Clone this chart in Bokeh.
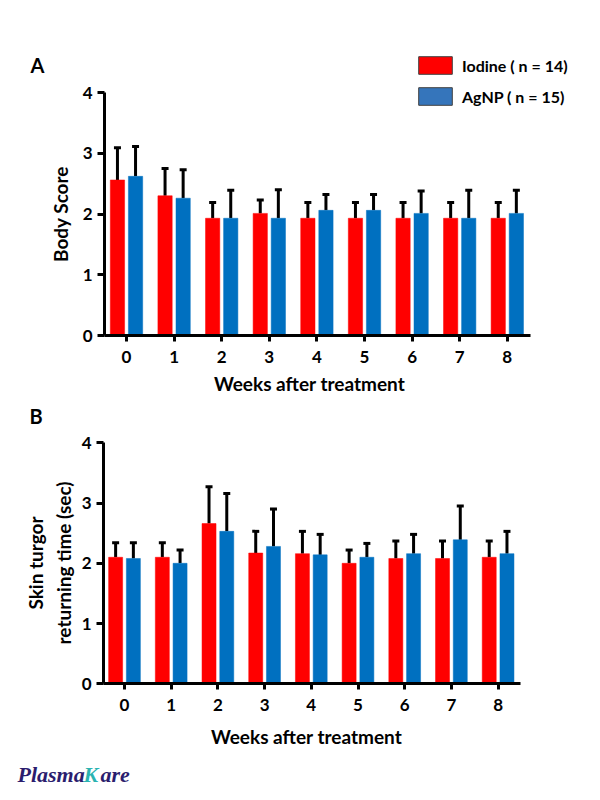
from bokeh.plotting import figure
from bokeh.models import (Range1d, FixedTicker, Whisker, TeeHead, ColumnDataSource,
                          Legend, LegendItem, Label)
from bokeh.layouts import column
from bokeh.embed import file_html
from bokeh.resources import INLINE

# ---------------- data ----------------
weeks = [0, 1, 2, 3, 4, 5, 6, 7, 8]
week_labels = ["0", "1", "2", "3", "4", "5", "6", "7", "8"]
series_names = ["Iodine ( n = 14)", "AgNP ( n = 15)"]
x_title = "Weeks after treatment"

body_iodine_mean = [2.56, 2.30, 1.93, 2.01, 1.93, 1.93, 1.93, 1.93, 1.93]
body_iodine_sd   = [0.53, 0.45, 0.26, 0.22, 0.26, 0.26, 0.26, 0.26, 0.26]
body_agnp_mean   = [2.62, 2.26, 1.93, 1.93, 2.06, 2.06, 2.01, 1.93, 2.01]
body_agnp_sd     = [0.49, 0.47, 0.46, 0.47, 0.26, 0.26, 0.37, 0.46, 0.38]

skin_iodine_mean = [2.10, 2.10, 2.66, 2.17, 2.16, 2.00, 2.08, 2.08, 2.10]
skin_iodine_sd   = [0.24, 0.24, 0.61, 0.36, 0.37, 0.22, 0.29, 0.29, 0.27]
skin_agnp_mean   = [2.08, 2.00, 2.53, 2.28, 2.14, 2.10, 2.16, 2.39, 2.16]
skin_agnp_sd     = [0.26, 0.22, 0.63, 0.62, 0.34, 0.23, 0.32, 0.56, 0.37]

y_ticks = [0, 1, 2, 3, 4]
y_max = 4

# ---------------- style / layout ----------------
RED = "#ff0000"
BLUE = "#0070c0"
LEG_BLUE = "#3575bb"
FONT = "Lato"
BAR_W = 0.30
OFF = 0.19
W = 592
NAN = float("nan")

# pixel geometry of each panel (figure-relative): first-tick x, px per week,
# y of value 0 from figure top, px per unit, x-axis end px, y-axis px,
# x-title centre and baseline (from figure bottom), y-label standoff
GEOM_A = dict(height=400, x0=126, dx=47.6, y0=335, dy=60.75, xend=530, yax=104,
              tx=309, ty=17, ystand=8)
GEOM_B = dict(height=396, x0=124, dx=46.7, y0=283.3, dy=60.25, xend=520, yax=103,
              tx=306, ty=60, ystand=4)


def make_panel(iod_m, iod_sd, ag_m, ag_sd, ylabel, g):
    H = g["height"]
    xr = Range1d(-g["x0"] / g["dx"], (W - g["x0"]) / g["dx"])
    yr = Range1d((g["y0"] - H) / g["dy"], g["y0"] / g["dy"])
    p = figure(width=W, height=H, output_backend="svg", toolbar_location=None,
               x_range=xr, y_range=yr, title=None,
               min_border_left=0, min_border_right=0,
               min_border_top=0, min_border_bottom=0)
    p.outline_line_color = None
    p.grid.visible = False
    p.background_fill_color = "white"
    p.border_fill_color = "white"

    for means, sds, off, col in [(iod_m, iod_sd, -OFF, RED), (ag_m, ag_sd, OFF, BLUE)]:
        xs = [w + off for w in weeks]
        src = ColumnDataSource(dict(x=xs, top=means,
                                    upper=[m + s for m, s in zip(means, sds)]))
        p.vbar(x="x", top="top", bottom=0, width=BAR_W, source=src,
               fill_color=col, line_color=col, line_width=0.5)
        p.add_layout(Whisker(base="x", lower="top", upper="upper", source=src,
                             line_color="black", line_width=3, lower_head=None,
                             upper_head=TeeHead(size=7, line_width=3, line_color="black")))

    yaxis_x = (g["yax"] - g["x0"]) / g["dx"]
    xaxis_end = (g["xend"] - g["x0"]) / g["dx"]

    for ax in (p.xaxis, p.yaxis):
        ax.axis_line_width = 3
        ax.axis_line_color = "black"
        ax.major_tick_line_width = 3
        ax.major_tick_line_color = "black"
        ax.major_tick_in = 0
        ax.minor_tick_line_color = None
        ax.major_label_text_font = FONT
        ax.major_label_text_font_style = "bold"
        ax.major_label_text_font_size = "17px"
        ax.major_label_text_color = "black"
        ax.axis_label_text_font = FONT
        ax.axis_label_text_font_style = "bold"
        ax.axis_label_text_font_size = "19px"
        ax.axis_label_text_color = "black"

    p.xaxis.fixed_location = 0
    p.xaxis.bounds = (yaxis_x, xaxis_end)
    p.xaxis.ticker = FixedTicker(ticks=weeks)
    p.xaxis.major_label_overrides = {w: l for w, l in zip(weeks, week_labels)}
    p.xaxis.major_tick_out = 6
    p.xaxis.major_label_standoff = 9

    p.yaxis.fixed_location = yaxis_x
    p.yaxis.bounds = (0, y_max)
    p.yaxis.ticker = FixedTicker(ticks=y_ticks)
    p.yaxis.major_tick_out = 7
    p.yaxis.major_label_standoff = 5
    p.yaxis.axis_label = ylabel
    p.yaxis.axis_label_standoff = g["ystand"]

    # x-axis title
    p.add_layout(Label(x=g["tx"], y=g["ty"], x_units="screen", y_units="screen",
                       text=x_title, text_font=FONT, text_font_style="bold",
                       text_font_size="19px", text_color="black",
                       text_align="center", text_baseline="alphabetic"))
    return p


pA = make_panel(body_iodine_mean, body_iodine_sd, body_agnp_mean, body_agnp_sd,
                "Body Score", GEOM_A)
pB = make_panel(skin_iodine_mean, skin_iodine_sd, skin_agnp_mean, skin_agnp_sd,
                "Skin turgor\nreturning time (sec)", GEOM_B)

# panel letters
pA.add_layout(Label(x=30, y=336, x_units="screen", y_units="screen",
                    text="A", text_font=FONT, text_font_style="bold",
                    text_font_size="20px", text_color="black", text_baseline="alphabetic"))
pB.add_layout(Label(x=29, y=381, x_units="screen", y_units="screen",
                    text="B", text_font=FONT, text_font_style="bold",
                    text_font_size="20px", text_color="black", text_baseline="alphabetic"))

# legend (panel A) with outlined proxy swatches
proxy = ColumnDataSource(dict(x=[NAN], top=[NAN]))
r1 = pA.vbar(x="x", top="top", width=BAR_W, source=proxy,
             fill_color=RED, line_color="#404040", line_width=1)
r2 = pA.vbar(x="x", top="top", width=BAR_W, source=proxy,
             fill_color=LEG_BLUE, line_color="#404040", line_width=1)
leg = Legend(items=[LegendItem(label=series_names[0], renderers=[r1]),
                    LegendItem(label=series_names[1], renderers=[r2])],
             location=(414, 293), orientation="vertical",
             glyph_width=42, glyph_height=22, spacing=9, label_standoff=6,
             padding=0, margin=0, border_line_color=None,
             background_fill_alpha=0,
             label_text_font=FONT, label_text_font_style="bold",
             label_text_font_size="16px", label_text_color="black")
pA.add_layout(leg, "center")

# watermark logo text
for txt, x, col in [("Plasma", 17, "#2b1d6e"), ("K", 83, "#2bb3b1"), ("are", 100, "#2b1d6e")]:
    pB.add_layout(Label(x=x, y=22, x_units="screen", y_units="screen", text=txt,
                        text_font="Liberation Serif", text_font_style="bold italic",
                        text_font_size="22px", text_color=col, text_baseline="alphabetic"))

layout = column(pA, pB, spacing=0)
open("out.html", "w").write(file_html(layout, INLINE))
